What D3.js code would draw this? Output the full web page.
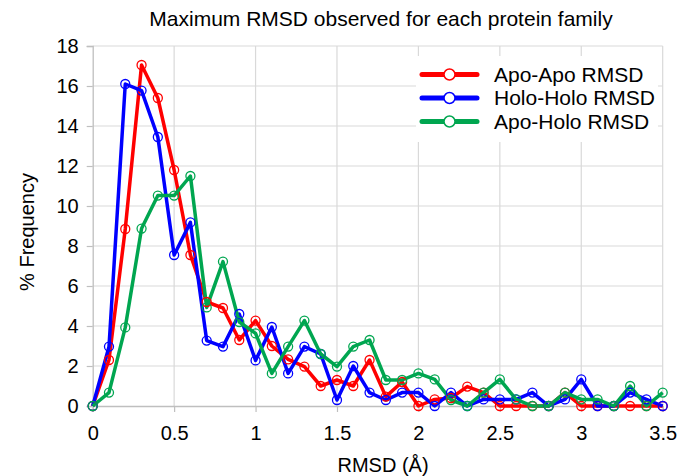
<!DOCTYPE html>
<html><head><meta charset="utf-8">
<script src="https://cdn.jsdelivr.net/npm/d3@7"></script>
<style>body{margin:0;background:#fff}svg{display:block;font-family:"Liberation Sans",Arial,sans-serif}</style>
</head><body>
<svg id="c" width="677" height="476"></svg>
<script>
const xValues = [0,0.1,0.2,0.3,0.4,0.5,0.6,0.7,0.8,0.9,1.0,1.1,1.2,1.3,1.4,1.5,1.6,1.7,1.8,1.9,2.0,2.1,2.2,2.3,2.4,2.5,2.6,2.7,2.8,2.9,3.0,3.1,3.2,3.3,3.4,3.5];
const apoApo = [0,2.3,8.85,17.05,15.4,11.8,7.55,5.2,4.9,3.3,4.27,3.0,2.33,1.97,1.0,1.3,1.0,2.3,0.47,1.2,0,0.33,0.4,0.97,0.67,0,0,0,0,0.67,0,0,0,0,0,0];
const holoHolo = [0,2.97,16.1,15.77,13.45,7.55,9.18,3.27,2.97,4.6,2.28,3.95,1.63,2.97,2.6,0.3,2.0,0.67,0.3,0.67,0.67,0,0.67,0,0.33,0.33,0.33,0.67,0,0.33,1.33,0,0,0.67,0.33,0];
const apoHolo = [0,0.67,3.93,8.87,10.52,10.52,11.5,4.93,7.22,4.2,3.63,1.63,2.97,4.27,2.6,1.97,2.97,3.3,1.3,1.3,1.63,1.33,0.3,0,0.67,1.33,0.33,0,0,0.67,0.33,0.33,0,1.0,0,0.67];
const seriesNames = ["Apo-Apo RMSD","Holo-Holo RMSD","Apo-Holo RMSD"];
const seriesColors = ["#ff0000","#0000ff","#00a650"];
const xTicks = [0,0.5,1,1.5,2,2.5,3,3.5];
const yTicks = [0,2,4,6,8,10,12,14,16,18];
const title = "Maximum RMSD observed for each protein family";
const xTitle = "RMSD (Å)";
const yTitle = "% Frequency";

const svg = d3.select("#c");
const L = 92.7, R = 662.7, T = 46, B = 406;
const x = d3.scaleLinear().domain([0,3.5]).range([L,R]);
const y = d3.scaleLinear().domain([0,18]).range([B,T]);
const grid = "#d9d9d9";

// grid
svg.append("g").selectAll("line").data(yTicks.slice(1)).join("line")
  .attr("x1",L).attr("x2",R).attr("y1",d=>y(d)).attr("y2",d=>y(d))
  .attr("stroke",grid).attr("stroke-width",1.2);
svg.append("g").selectAll("line").data(xTicks.slice(1)).join("line")
  .attr("y1",T).attr("y2",B).attr("x1",d=>x(d)).attr("x2",d=>x(d))
  .attr("stroke",grid).attr("stroke-width",1.2);

// axes
const xa = svg.append("g").attr("transform",`translate(0,${B})`)
  .call(d3.axisBottom(x).tickValues(xTicks).tickSize(6).tickPadding(14).tickFormat(d=>String(d)));
const ya = svg.append("g").attr("transform",`translate(${L},0)`)
  .call(d3.axisLeft(y).tickValues(yTicks).tickSize(6).tickPadding(8).tickFormat(d=>String(d)));
[xa,ya].forEach(a=>{
  a.select(".domain").attr("stroke","#bfbfbf").attr("stroke-width",1.3);
  a.selectAll(".tick line").attr("stroke","#bfbfbf").attr("stroke-width",1.2);
  a.selectAll("text").attr("font-size",20).attr("fill","#000").attr("font-family","Liberation Sans, Arial, sans-serif");
});

// series
const data = [apoApo, holoHolo, apoHolo];
const line = d3.line().x((d,i)=>x(xValues[i])).y(d=>y(d));
data.forEach((vals,k)=>{
  svg.append("path").datum(vals).attr("d",line).attr("fill","none")
    .attr("stroke",seriesColors[k]).attr("stroke-width",3.5).attr("stroke-linejoin","round");
});
data.forEach((vals,k)=>{
  svg.append("g").selectAll("circle").data(vals).join("circle")
    .attr("cx",(d,i)=>x(xValues[i])).attr("cy",d=>y(d)).attr("r",4.5)
    .attr("fill","none").attr("stroke",seriesColors[k]).attr("stroke-width",1.3);
});

// legend
svg.append("rect").attr("x",416).attr("y",56).attr("width",242).attr("height",86).attr("fill","#fff");
const lg = svg.append("g");
seriesNames.forEach((n,k)=>{
  const cy = 74.5 + k*23.5;
  lg.append("line").attr("x1",422).attr("x2",477).attr("y1",cy).attr("y2",cy)
    .attr("stroke",seriesColors[k]).attr("stroke-width",5).attr("stroke-linecap","round");
  lg.append("circle").attr("cx",449.5).attr("cy",cy).attr("r",5.5).attr("fill","#fff")
    .attr("stroke",seriesColors[k]).attr("stroke-width",1.5);
  lg.append("text").attr("x",494).attr("y",cy+7).attr("font-size",21).text(n);
});

// titles
svg.append("text").attr("x",381).attr("y",26).attr("text-anchor","middle").attr("font-size",21).text(title);
svg.append("text").attr("x",383).attr("y",472).attr("text-anchor","middle").attr("font-size",20).text(xTitle);
svg.append("text").attr("transform","translate(34,232) rotate(-90)").attr("text-anchor","middle").attr("font-size",20).text(yTitle);
</script>
</body></html>
